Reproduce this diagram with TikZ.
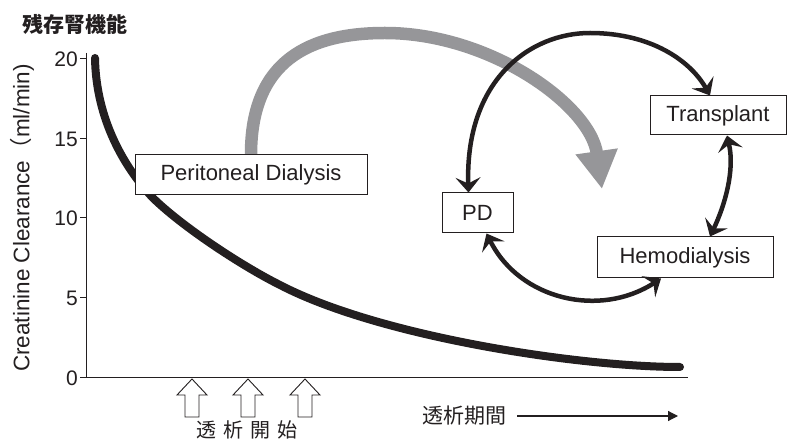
\documentclass[tikz,border=0pt]{standalone}
\usepackage{fontspec}
\setmainfont{Liberation Sans}
\newfontfamily\cjk{Noto Sans CJK JP}
\usetikzlibrary{arrows.meta}
\definecolor{ink}{RGB}{35,31,32}
\definecolor{arrgray}{RGB}{150,150,153}
\begin{document}
\begin{tikzpicture}[x=1pt,y=-1pt,
  box/.style={draw=ink, line width=1pt, fill=white, inner sep=0pt, text=ink, font=\fontsize{22}{26}\selectfont},
  ticklab/.style={font=\fontsize{21}{24}\selectfont, anchor=east, inner sep=0pt, text=ink},
  axisline/.style={draw=ink, line width=1pt},
  cyc/.style={draw=ink, line width=4.5pt, {Stealth[length=15pt,width=25pt,inset=6pt]}-{Stealth[length=15pt,width=25pt,inset=6pt]}},
  grayarr/.style={draw=arrgray, line width=12.5pt, -{Triangle[length=38pt,width=40pt]}},
  hollow/.style={draw=ink, line width=0.9pt, fill=white, line join=miter},
  jp/.style={text=ink, inner sep=0pt}]
\useasboundingbox (0,0) rectangle (787,443);

% axes
\coordinate (ytop) at (86,53);
\coordinate (O) at (86,378);
\coordinate (xend) at (688,378);
\draw[axisline] (ytop) -- (O) -- (xend);
\foreach \v/\y in {0/378,5/298,10/218,15/139,20/59}{
  \draw[axisline] (80,\y) -- (86,\y);
  \node[ticklab] (t\v) at (78,\y) {\v};
}
\node[rotate=90, text=ink, inner sep=0pt, font=\fontsize{22.5}{26}\selectfont] (ylab) at (22,218) {Creatinine Clearance{\cjk （}ml/min)};
\node[jp, font={\cjk\bfseries\fontsize{21}{24}\selectfont}] (ttl) at (75,24) {残存腎機能};

% clearance curve
\draw[ink, line width=8pt, line cap=round] (95,58) .. controls (96,120) and (125,168) .. (152,197)
  .. controls (180,225) and (240,265) .. (280,285)
  .. controls (380,337) and (580,367) .. (680,367);

% gray arrow
\coordinate (gtip) at (602,189);
\node[box, minimum width=232pt, minimum height=40pt] (pdl) at (251,175) {Peritoneal Dialysis};
\draw[grayarr] (pdl.north) .. controls (251,60) and (310,33) .. (385,33) .. controls (490,33) and (590,105) .. (gtip);
\node[box, minimum width=232pt, minimum height=40pt] at (251,175) {Peritoneal Dialysis};

% cycle boxes
\node[box, minimum width=71pt, minimum height=40pt] (pd) at (477.5,213) {PD};
\node[box, minimum width=136pt, minimum height=39pt] (tx) at (718,115.5) {Transplant};
\node[box, minimum width=176pt, minimum height=41pt] (hd) at (685,257.5) {Hemodialysis};

\draw[cyc] ([xshift=-9pt]pd.north) .. controls (465,80) and (530,33) .. (590,33) .. controls (650,33) and (690,60) .. ([xshift=-8pt]tx.north);
\draw[cyc] ([xshift=9pt]tx.south) .. controls (735,170) and (725,205) .. ([xshift=25pt]hd.north);
\draw[cyc] ([xshift=9pt]pd.south) .. controls (520,300) and (600,318) .. ([xshift=-24pt]hd.south);

% start-of-dialysis arrows
\foreach \x in {192,248,305}{
  \draw[hollow] (\x,379) -- (\x+15,395) -- (\x+7,395) -- (\x+7,417) -- (\x-7,417) -- (\x-7,395) -- (\x-15,395) -- cycle;
}
\node[jp, font={\cjk\fontsize{20}{24}\selectfont}] (start) at (247,430) {透\hspace{7pt}析\hspace{7pt}開\hspace{7pt}始};

% dialysis period
\node[jp, font={\cjk\fontsize{21}{24}\selectfont}] (period) at (464,416) {透析期間};
\coordinate (pend) at (678,416);
\draw[draw=ink, line width=1.2pt, -{Triangle[length=10pt,width=10pt]}] ([xshift=11pt]period.east) -- (pend);
\end{tikzpicture}
\end{document}
